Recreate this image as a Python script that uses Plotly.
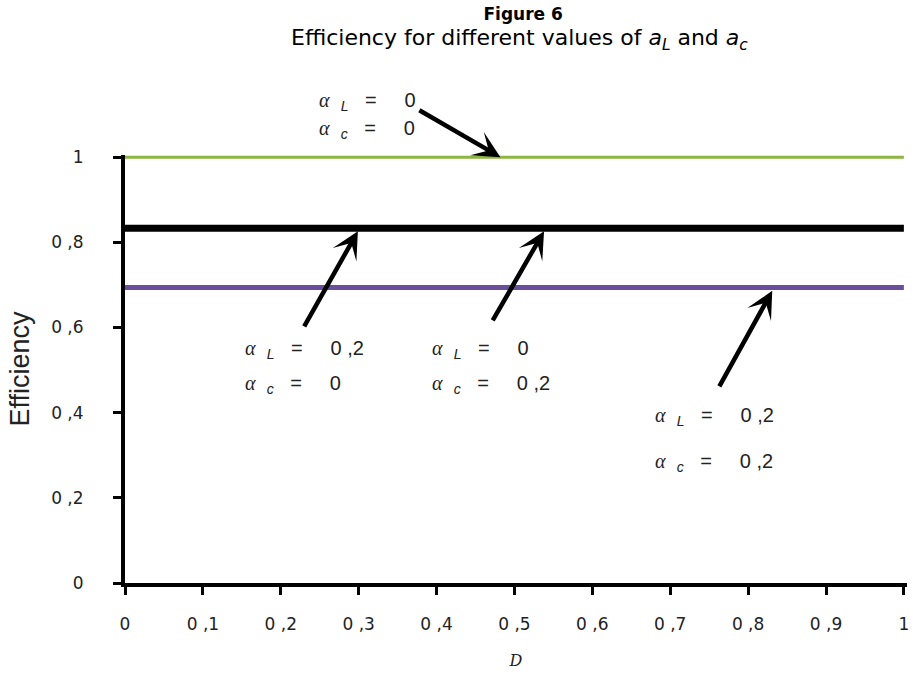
import plotly.graph_objects as go

# ---- data ----
D = [0.0, 0.1, 0.2, 0.3, 0.4, 0.5, 0.6, 0.7, 0.8, 0.9, 1.0]
eff_L0_c0 = [1.0, 1.0, 1.0, 1.0, 1.0, 1.0, 1.0, 1.0, 1.0, 1.0, 1.0]
eff_L02_or_c02 = [0.833, 0.833, 0.833, 0.833, 0.833, 0.833, 0.833, 0.833, 0.833, 0.833, 0.833]
eff_L02_c02 = [0.694, 0.694, 0.694, 0.694, 0.694, 0.694, 0.694, 0.694, 0.694, 0.694, 0.694]

tick_vals_x = [0.0, 0.1, 0.2, 0.3, 0.4, 0.5, 0.6, 0.7, 0.8, 0.9, 1.0]
tick_text_x = ["0", "0 ,1", "0 ,2", "0 ,3", "0 ,4", "0 ,5", "0 ,6", "0 ,7", "0 ,8", "0 ,9", "1"]
tick_vals_y = [0.0, 0.2, 0.4, 0.6, 0.8, 1.0]
tick_text_y = ["0", "0 ,2", "0 ,4", "0 ,6", "0 ,8", "1"]

alpha_L = ["0", "0 ,2", "0", "0 ,2"]
alpha_c = ["0", "0", "0 ,2", "0 ,2"]

Y_TOP = 1.005
X_TOP = 1.004

fig = go.Figure()
fig.add_trace(go.Scatter(x=D, y=eff_L0_c0, mode="lines",
                         line=dict(color="#8db542", width=3), showlegend=False))
fig.add_trace(go.Scatter(x=D, y=eff_L02_or_c02, mode="lines",
                         line=dict(color="#000000", width=7), showlegend=False))
fig.add_trace(go.Scatter(x=D, y=eff_L02_c02, mode="lines",
                         line=dict(color="#6a4f9c", width=5), showlegend=False))

SER = "Liberation Serif"
SANS = "Liberation Sans"
SP = "\u00a0"


def lab(sub, val):
    return ('<span style="font-family:%s"><i>α</i></span>%s<sub><i>%s</i></sub>%s=%s%s'
            % (SER, SP * 2, sub, SP * 3, SP * 5, val))


# label anchors (left x, line-1 y, line-2 y) in data units
label_pos = [(0.246, 1.130, 1.065), (0.152, 0.548, 0.465),
             (0.392, 0.548, 0.465), (0.678, 0.390, 0.282)]
# arrows: (head x, head y, tail x, tail y)
arrow_pos = [(0.482, 1.0, 0.376, 1.112), (0.299, 0.826, 0.229, 0.599),
             (0.538, 0.826, 0.471, 0.613), (0.831, 0.686, 0.762, 0.458)]

ann = []
for (lx, y1, y2), aL, ac in zip(label_pos, alpha_L, alpha_c):
    for yy, txt in ((y1, lab("L", aL)), (y2, lab("c", ac))):
        ann.append(dict(x=lx, y=yy / Y_TOP, xref="x", yref="paper", text=txt,
                        showarrow=False, xanchor="left", yanchor="middle",
                        font=dict(family=SANS, size=20, color="#222222")))
for hx, hy, tx, ty in arrow_pos:
    ann.append(dict(x=hx, y=hy, xref="x", yref="y", ax=tx, ay=ty, axref="x", ayref="y",
                    text="", showarrow=True, arrowhead=3, arrowsize=1.0, arrowwidth=4.5,
                    arrowcolor="#000000", standoff=0, startstandoff=0))

# subtitle
ann.append(dict(x=0.5045, y=(583 - 39) / 428, xref="paper", yref="paper",
                text="Efficiency for different values of <i>a<sub>L</sub></i> and <i>a<sub>c</sub></i>",
                showarrow=False, xanchor="center", yanchor="middle",
                font=dict(family="DejaVu Sans", size=22, color="#000000")))

fig.update_layout(
    width=913, height=674,
    template="none",
    paper_bgcolor="white", plot_bgcolor="white",
    margin=dict(l=125, r=6, t=155, b=91, autoexpand=False),
    title=dict(text="<b>Figure 6</b>",
               font=dict(family="DejaVu Sans", size=17, color="#000000"),
               x=0.573, xanchor="center", xref="container",
               y=1 - 14 / 674, yanchor="middle", yref="container"),
    annotations=ann,
    showlegend=False,
)
fig.update_xaxes(range=[0, X_TOP], tickvals=tick_vals_x, ticktext=tick_text_x,
                 showline=True, linewidth=4, linecolor="black", mirror=False,
                 ticks="outside", ticklen=8, tickwidth=3, tickcolor="black",
                 showgrid=False, zeroline=False, automargin=False,
                 ticklabelstandoff=15,
                 tickfont=dict(family="DejaVu Sans", size=17, color="#222222"),
                 title=dict(text="<i>D</i>", standoff=22,
                            font=dict(family="DejaVu Serif", size=16, color="#222222")))
fig.update_yaxes(range=[0, Y_TOP], tickvals=tick_vals_y, ticktext=tick_text_y,
                 showline=True, linewidth=4, linecolor="black",
                 ticks="outside", ticklen=8, tickwidth=3, tickcolor="black",
                 showgrid=False, zeroline=False, automargin=False,
                 ticklabelstandoff=26,
                 tickfont=dict(family="DejaVu Sans", size=17, color="#222222"),
                 title=dict(text="Efficiency", standoff=15,
                            font=dict(family="Liberation Sans", size=27, color="#222222")))

fig.write_html("out.html", config={"displayModeBar": False},
               post_script="document.body.style.margin='0px';")
